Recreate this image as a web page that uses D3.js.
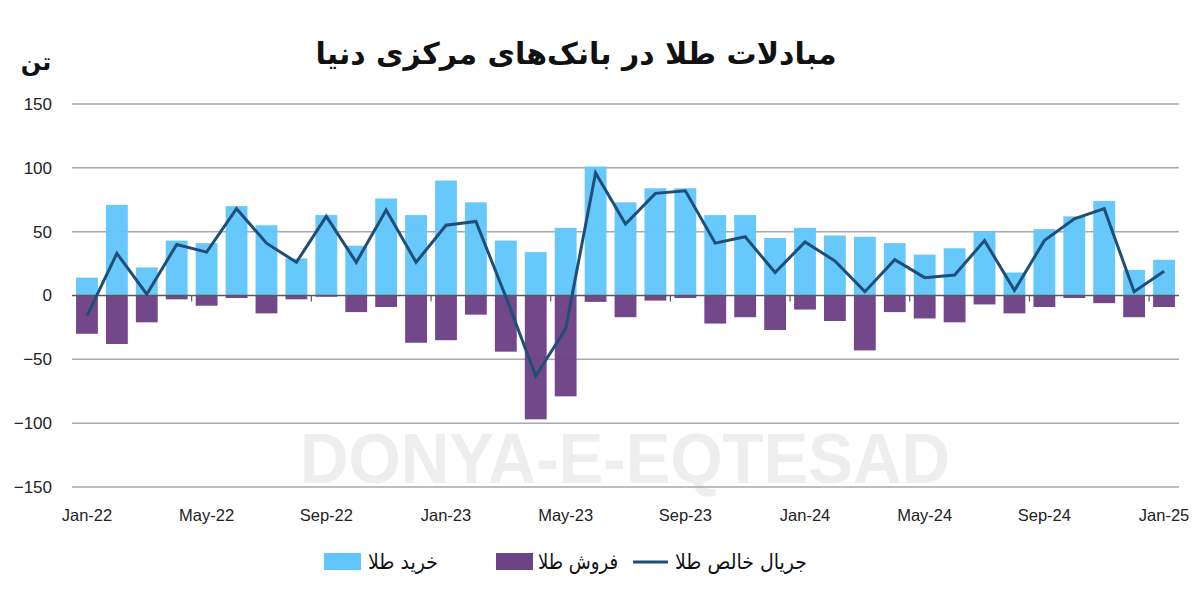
<!DOCTYPE html>
<html>
<head>
<meta charset="utf-8">
<script src="https://cdn.jsdelivr.net/npm/d3@7/dist/d3.min.js"></script>
<style>
html,body{margin:0;padding:0;background:#fff;}
svg{display:block;}
</style>
</head>
<body>
<svg id="chart" width="1200" height="606"></svg>
<script>
const months = ["Jan-22","Feb-22","Mar-22","Apr-22","May-22","Jun-22","Jul-22","Aug-22","Sep-22","Oct-22","Nov-22","Dec-22",
"Jan-23","Feb-23","Mar-23","Apr-23","May-23","Jun-23","Jul-23","Aug-23","Sep-23","Oct-23","Nov-23","Dec-23",
"Jan-24","Feb-24","Mar-24","Apr-24","May-24","Jun-24","Jul-24","Aug-24","Sep-24","Oct-24","Nov-24","Dec-24","Jan-25"];
const buy  = [14,71,22,43,41,70,55,29,63,39,76,63, 90,73,43,34,53,101,73,84,84,63,63,45, 53,47,46,41,32,37,50,18,52,62,74,20,28];
const sell = [-30,-38,-21,-3,-8,-2,-14,-3,-1,-13,-9,-37, -35,-15,-44,-97,-79,-5,-17,-4,-2,-22,-17,-27, -11,-20,-43,-13,-18,-21,-7,-14,-9,-2,-6,-17,-9];
const net  = [-16,33,1,40,34,68,41,26,62,26,67,26, 55,58,-1,-63,-26,96,56,80,82,41,46,18, 42,27,3,28,14,16,43,4,43,60,68,3,19];
const yTicks = [150,100,50,0,-50,-100,-150];
const xLabels = ["Jan-22","May-22","Sep-22","Jan-23","May-23","Sep-23","Jan-24","May-24","Sep-24","Jan-25"];
const title = "مبادلات طلا در بانک‌های مرکزی دنیا";
const unit = "تن";
const legendNames = ["خرید طلا","فروش طلا","جریال خالص طلا"];

const colBuy = "#61C6FB", colSell = "#6E4287", colNet = "#1F4E79";
const svg = d3.select("#chart");
const pLeft = 72, pRight = 1179, pTop = 104, pBottom = 487;
const x = d3.scaleBand().domain(months).range([pLeft, pRight]).paddingInner(0.27).paddingOuter(0.135);
const y = d3.scaleLinear().domain([-150,150]).range([pBottom, pTop]);

// watermark
svg.append("text").attr("x", 625).attr("y", 483).attr("text-anchor","middle")
  .attr("font-family","Liberation Sans, Arial, sans-serif").attr("font-weight","bold")
  .attr("font-size", 70).attr("textLength", 650).attr("lengthAdjust","spacingAndGlyphs")
  .attr("fill","#eeeeee").text("DONYA-E-EQTESAD");

// gridlines
svg.append("g").selectAll("line").data(yTicks.filter(d=>d!==0)).join("line")
  .attr("x1", pLeft).attr("x2", pRight).attr("y1", d=>y(d)).attr("y2", d=>y(d))
  .attr("stroke","#a9a9a9").attr("stroke-width",1.5);

// y labels
const yAxis = d3.axisLeft(y).tickValues(yTicks).tickSize(0).tickPadding(20);
const gy = svg.append("g").attr("transform",`translate(${pLeft},0)`).call(yAxis);
gy.select(".domain").remove();
gy.selectAll("text").attr("font-family","Liberation Sans, Arial, sans-serif").attr("font-size",17).attr("fill","#222");

// bars
svg.append("g").selectAll("rect").data(months).join("rect")
  .attr("x", d=>x(d)).attr("width", x.bandwidth())
  .attr("y", (d,i)=>y(buy[i])).attr("height", (d,i)=>y(0)-y(buy[i]))
  .attr("fill", colBuy).attr("opacity",0.97);
svg.append("g").selectAll("rect").data(months).join("rect")
  .attr("x", d=>x(d)).attr("width", x.bandwidth())
  .attr("y", y(0)).attr("height", (d,i)=>y(sell[i])-y(0))
  .attr("fill", colSell).attr("opacity",0.97);

// zero line and ticks
svg.append("line").attr("x1", pLeft).attr("x2", pRight).attr("y1", y(0)).attr("y2", y(0))
  .attr("stroke","#595959").attr("stroke-width",1.5);
const step = x.step();
const tickIdx = months.map((d,i)=>i).filter(i=>i%4===0 && i>0);
svg.append("g").selectAll("line").data(tickIdx).join("line")
  .attr("x1", i=>x(months[i]) - step*x.paddingInner()/2).attr("x2", i=>x(months[i]) - step*x.paddingInner()/2)
  .attr("y1", y(0)).attr("y2", y(0)+6).attr("stroke","#595959").attr("stroke-width",1.2);

// line
const line = d3.line().x((d,i)=>x(months[i])+x.bandwidth()/2).y(d=>y(d));
svg.append("path").datum(net).attr("d", line).attr("fill","none")
  .attr("stroke", colNet).attr("stroke-width",3).attr("stroke-linejoin","miter");

// x labels
const xAxis = d3.axisBottom(x).tickValues(xLabels).tickSize(0).tickPadding(0);
const gx = svg.append("g").attr("transform",`translate(0,${pBottom+28})`).call(xAxis);
gx.select(".domain").remove();
gx.selectAll("text").attr("font-family","Liberation Sans, Arial, sans-serif").attr("font-size",16.5).attr("fill","#222").attr("dy","0.35em");

// title
svg.append("text").attr("x", 576).attr("y", 64).attr("text-anchor","middle")
  .attr("font-family","DejaVu Sans, sans-serif").attr("font-weight","bold").attr("font-size",30)
  .attr("direction","rtl").attr("fill","#111").text(title);
svg.append("text").attr("x", 36).attr("y", 70).attr("text-anchor","middle")
  .attr("font-family","DejaVu Sans, sans-serif").attr("font-weight","bold").attr("font-size",24)
  .attr("fill","#111").text(unit);

// legend
const lg = svg.append("g").attr("font-family","DejaVu Sans, sans-serif").attr("font-size",21).attr("fill","#111");
lg.append("rect").attr("x",324).attr("y",553).attr("width",37).attr("height",17).attr("fill",colBuy);
lg.append("text").attr("x",368).attr("y",569).attr("textLength",70).attr("lengthAdjust","spacingAndGlyphs").text(legendNames[0]);
lg.append("rect").attr("x",496).attr("y",553).attr("width",37).attr("height",17).attr("fill",colSell);
lg.append("text").attr("x",538).attr("y",569).attr("textLength",80).attr("lengthAdjust","spacingAndGlyphs").text(legendNames[1]);
lg.append("line").attr("x1",633).attr("x2",668).attr("y1",562).attr("y2",562).attr("stroke",colNet).attr("stroke-width",3);
lg.append("text").attr("x",675).attr("y",569).attr("textLength",132).attr("lengthAdjust","spacingAndGlyphs").text(legendNames[2]);
</script>
</body>
</html>
